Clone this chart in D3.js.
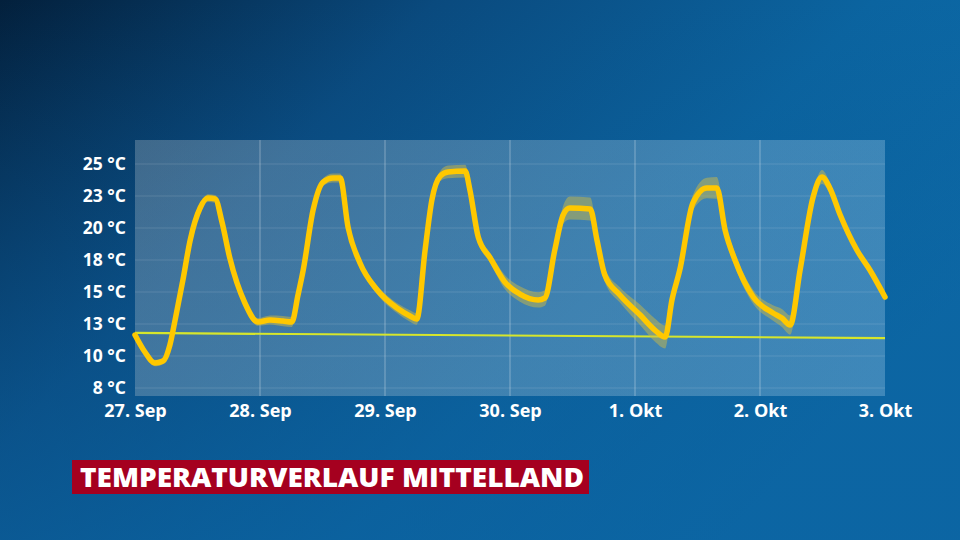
<!DOCTYPE html>
<html><head><meta charset="utf-8">
<script src="https://cdn.jsdelivr.net/npm/d3@7"></script>
<style>html,body{margin:0;padding:0;background:#073560;}svg{display:block;}</style>
</head><body>
<svg id="c" width="960" height="540"></svg>
<script>
// ---- data ----
const dayLabels = ["27. Sep","28. Sep","29. Sep","30. Sep","1. Okt","2. Okt","3. Okt"];
const dayHours = [0,24,48,72,96,120,144];
const yTickValues = [25,22.5,20,17.5,15,12.5,10,7.5];
const yTickLabels = ["25 °C","23 °C","20 °C","18 °C","15 °C","13 °C","10 °C","8 °C"];
const hours = [0,1.9,3.8,5.4,6.7,7.7,9.2,10.6,12.5,14.0,15.4,16.7,18.2,21.1,23.6,25.9,28.4,30.1,31.3,32.3,34.2,36.1,38.0,39.4,40.9,43.2,46.5,50.3,52.8,54.1,55.7,57.0,58.6,60.1,63.4,64.3,65.9,68.2,71.0,73.9,77.4,78.7,80.6,82.2,83.5,87.4,88.7,90.2,93.1,97.0,99.8,101.8,103.1,104.6,107.1,109.8,111.7,113.3,115.2,118.7,122.5,124.2,125.8,127.7,130.2,131.9,133.4,135.4,138.6,141.1,144.0];
const temps = [11.64,10.31,9.45,9.61,10.86,12.81,15.94,19.06,21.56,22.34,22.27,20.47,17.66,14.14,12.66,12.81,12.73,12.66,14.77,16.72,21.41,23.59,23.91,23.91,20.08,17.27,15.16,13.75,13.13,12.89,18.28,22.19,24.06,24.38,24.45,22.97,19.30,17.66,15.78,14.84,14.38,14.53,18.28,21.02,21.56,21.48,19.06,16.33,14.77,13.2,12.03,11.48,14.38,16.72,21.95,23.13,23.13,19.84,17.5,14.61,13.36,12.97,12.42,16.72,22.42,23.98,23.13,21.02,18.28,16.72,14.61];
const spread = [0.15,0.2,0.25,0.25,0.25,0.2,0.2,0.2,0.2,0.3,0.3,0.3,0.3,0.3,0.3,0.35,0.4,0.4,0.35,0.3,0.3,0.3,0.35,0.35,0.3,0.3,0.35,0.4,0.45,0.45,0.4,0.35,0.4,0.5,0.5,0.4,0.35,0.4,0.55,0.6,0.6,0.6,0.5,0.7,0.9,0.9,0.7,0.55,0.6,0.8,0.9,0.9,0.6,0.5,0.6,0.8,0.85,0.6,0.55,0.55,0.6,0.7,0.75,0.5,0.4,0.55,0.45,0.35,0.3,0.3,0.3];
const meanHours = [0,144];
const meanTemps = [11.8,11.4];
const title = "TEMPERATURVERLAUF MITTELLAND";

// ---- layout ----
const svg = d3.select("#c");
const W = 960, H = 540;
const L = 135, R = 885, T = 140, B = 396;
const x = d3.scaleLinear().domain([0,144]).range([L,R]);
const y = d3.scaleLinear().domain([6.875,26.875]).range([B,T]);

const defs = svg.append("defs");
const bg = defs.append("linearGradient").attr("id","bg")
  .attr("x1","0").attr("y1","0").attr("x2","1").attr("y2","0.55");
bg.append("stop").attr("offset","0").attr("stop-color","#03203c");
bg.append("stop").attr("offset","0.35").attr("stop-color","#0a4a7e");
bg.append("stop").attr("offset","0.7").attr("stop-color","#0b64a0");
bg.append("stop").attr("offset","1").attr("stop-color","#0d6dab");
svg.append("rect").attr("width",W).attr("height",H).attr("fill","url(#bg)");
const bg2 = defs.append("linearGradient").attr("id","bg2")
  .attr("x1","0").attr("y1","0").attr("x2","0").attr("y2","1");
bg2.append("stop").attr("offset","0").attr("stop-color","#0a4f88").attr("stop-opacity",0);
bg2.append("stop").attr("offset","1").attr("stop-color","#0b609e").attr("stop-opacity",0.6);
svg.append("rect").attr("width",W).attr("height",H).attr("fill","url(#bg2)");

// plot panel
const pg = defs.append("linearGradient").attr("id","pg")
  .attr("x1","0").attr("y1","0").attr("x2","1").attr("y2","0");
pg.append("stop").attr("offset","0").attr("stop-color","#b4c2cc").attr("stop-opacity",0.32);
pg.append("stop").attr("offset","1").attr("stop-color","#a8d0ea").attr("stop-opacity",0.32);
svg.append("rect").attr("x",L).attr("y",T).attr("width",R-L).attr("height",B-T).attr("fill","url(#pg)");

// horizontal grid
svg.append("g").selectAll("line").data(yTickValues).join("line")
  .attr("x1",L).attr("x2",R).attr("y1",d=>y(d)).attr("y2",d=>y(d))
  .attr("stroke","#ffffff").attr("stroke-opacity",0.13).attr("stroke-width",1);
// vertical grid
svg.append("g").selectAll("line").data(dayHours.slice(1,-1)).join("line")
  .attr("x1",d=>x(d)).attr("x2",d=>x(d)).attr("y1",T).attr("y2",B)
  .attr("stroke","#ffffff").attr("stroke-opacity",0.35).attr("stroke-width",1);

// axes labels
const yAxis = d3.axisLeft(y).tickValues(yTickValues).tickSize(0).tickPadding(9)
  .tickFormat((d,i)=>yTickLabels[i]);
const ya = svg.append("g").attr("transform",`translate(${L},0)`).call(yAxis);
ya.select(".domain").remove();
ya.selectAll("text").attr("fill","#ffffff").attr("font-family","'Open Sans', sans-serif")
  .attr("font-weight",700).attr("font-size",17.5).attr("dy","0.33em");

const xAxis = d3.axisBottom(x).tickValues(dayHours).tickSize(0).tickPadding(7)
  .tickFormat((d,i)=>dayLabels[i]);
const xa = svg.append("g").attr("transform",`translate(0,${B})`).call(xAxis);
xa.select(".domain").remove();
xa.selectAll("text").attr("fill","#ffffff").attr("font-family","'Open Sans', sans-serif")
  .attr("font-weight",700).attr("font-size",18).attr("dy","0.75em");

// mean line
const pts = hours.map((h,i)=>({h, t:temps[i], s:spread[i]}));
svg.append("path").datum(meanHours.map((h,i)=>({h,t:meanTemps[i]})))
  .attr("d", d3.line().x(d=>x(d.h)).y(d=>y(d.t)))
  .attr("stroke","#d6e62c").attr("stroke-width",2.2).attr("fill","none");

// band
svg.append("path").datum(pts)
  .attr("d", d3.area().curve(d3.curveMonotoneX).x(d=>x(d.h)).y0(d=>y(d.t-d.s)).y1(d=>y(d.t+d.s)))
  .attr("fill","#c8b848").attr("fill-opacity",0.5);

// main curve
svg.append("path").datum(pts)
  .attr("d", d3.line().curve(d3.curveMonotoneX).x(d=>x(d.h)).y(d=>y(d.t)))
  .attr("stroke","#ffc800").attr("stroke-width",5.5).attr("fill","none")
  .attr("stroke-linejoin","round").attr("stroke-linecap","round");

// title
svg.append("rect").attr("x",72).attr("y",460).attr("width",517).attr("height",34).attr("fill","#a5001f");
svg.append("text").attr("x",80).attr("y",487).text(title)
  .attr("fill","#ffffff").attr("font-family","'Open Sans', sans-serif").attr("font-weight",800)
  .attr("font-size",26).attr("textLength",504).attr("lengthAdjust","spacingAndGlyphs");
</script>
</body></html>
